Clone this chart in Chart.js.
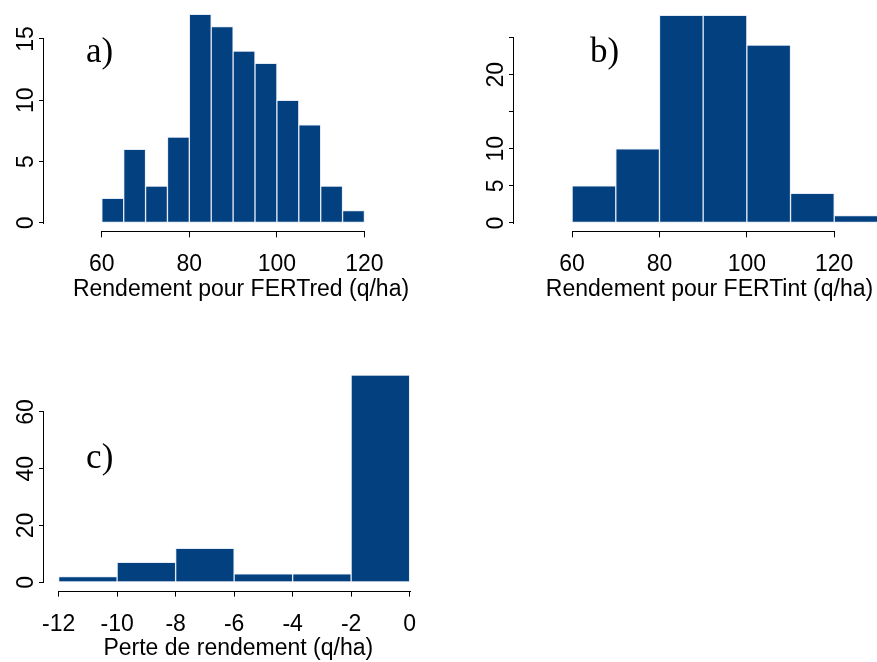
<!DOCTYPE html>
<html>
<head>
<meta charset="utf-8">
<script src="https://cdn.jsdelivr.net/npm/chart.js@4.4.1/dist/chart.umd.min.js"></script>
<style>
  html, body { margin: 0; padding: 0; background: #fff; overflow: hidden; }
  #page { position: relative; width: 877px; height: 662px; overflow: hidden; }
  canvas { position: absolute; }
</style>
</head>
<body>
<div id="page">
  <canvas id="histA" width="438" height="331" style="left:0;top:0"></canvas>
  <canvas id="histB" width="435" height="331" style="left:470px;top:0"></canvas>
  <canvas id="histC" width="433" height="331" style="left:0;top:331px"></canvas>
</div>
<script>
const edgesA = [60, 65, 70, 75, 80, 85, 90, 95, 100, 105, 110, 115, 120];
const countsA = [2, 6, 3, 7, 17, 16, 14, 13, 10, 8, 3, 1];
const xTicksA = [60, 80, 100, 120];
const yTicksA = [0, 5, 10, 15];
const yLabelsA = ['0', '5', '10', '15'];

const edgesB = [60, 70, 80, 90, 100, 110, 120, 130];
const countsB = [5, 10, 28, 28, 24, 4, 1];
const xTicksB = [60, 80, 100, 120];
const yTicksB = [0, 5, 10, 15, 20, 25];
const yLabelsB = ['0', '5', '10', '', '20', ''];

const edgesC = [-12, -10, -8, -6, -4, -2, 0];
const countsC = [2, 7, 12, 3, 3, 73];
const xTicksC = [-12, -10, -8, -6, -4, -2, 0];
const yTicksC = [0, 20, 40, 60];
const yLabelsC = ['0', '20', '40', '60'];

const SANS = "'Liberation Sans', Arial, sans-serif";
const BAR = '#02407f';
const EDGE = '#e4ebf6';

// axes façon R : trait limité aux graduations + étiquette a), b), c)
const rAxes = {
  id: 'rAxes',
  afterDraw(chart, args, opts) {
    const { ctx, chartArea, scales: { x, y } } = chart;
    const xt = x.ticks, yt = y.ticks;
    ctx.save();
    ctx.strokeStyle = '#000';
    ctx.lineWidth = 1;
    ctx.beginPath();
    const by = Math.round(chartArea.bottom) + 0.5;
    ctx.moveTo(Math.round(x.getPixelForValue(xt[0].value)), by);
    ctx.lineTo(Math.round(x.getPixelForValue(xt[xt.length - 1].value)) + 1, by);
    const lx = Math.round(chartArea.left) - 0.5;
    ctx.moveTo(lx, Math.round(y.getPixelForValue(yt[0].value)) + 1);
    ctx.lineTo(lx, Math.round(y.getPixelForValue(yt[yt.length - 1].value)));
    ctx.stroke();
    if (opts.tag) {
      ctx.font = "35px 'Liberation Serif', 'Times New Roman', serif";
      ctx.fillStyle = '#000';
      ctx.textAlign = 'left';
      ctx.textBaseline = 'alphabetic';
      ctx.fillText(opts.tag.text, x.getPixelForValue(opts.tag.x), y.getPixelForValue(opts.tag.y));
    }
    ctx.restore();
  }
};

function makeHist(id, edges, counts, cfg) {
  const points = counts.map((c, i) => ({ x: (edges[i] + edges[i + 1]) / 2, y: c }));
  return new Chart(document.getElementById(id), {
    type: 'bar',
    data: {
      datasets: [{
        data: points,
        backgroundColor: BAR,
        borderColor: EDGE,
        borderWidth: 1,
        borderSkipped: false,
        barPercentage: 1,
        categoryPercentage: 1
      }]
    },
    plugins: [rAxes],
    options: {
      responsive: false,
      animation: false,
      layout: { padding: cfg.padding },
      plugins: {
        legend: { display: false },
        tooltip: { enabled: false },
        rAxes: { tag: cfg.tag }
      },
      scales: {
        x: {
          type: 'linear',
          min: cfg.xMin,
          max: cfg.xMax,
          offset: false,
          afterBuildTicks: s => { s.ticks = cfg.xTicks.map(v => ({ value: v })); },
          afterFit: s => { s.height = 70; s.paddingLeft = 0; s.paddingRight = 0; },
          border: { display: false },
          grid: { offset: false, drawOnChartArea: false, drawTicks: true, tickLength: 6, tickColor: '#000', tickWidth: 1 },
          ticks: {
            autoSkip: false, maxRotation: 0, padding: 14, color: '#000',
            font: { family: SANS, size: 23 },
            callback: v => String(v)
          },
          title: {
            display: true, text: cfg.xTitle, color: '#000',
            font: { family: SANS, size: 23, lineHeight: 1 },
            padding: { top: 0, bottom: 0 }
          }
        },
        y: {
          min: cfg.yMin,
          max: cfg.yMax,
          afterBuildTicks: s => { s.ticks = cfg.yTicks.map(v => ({ value: v })); },
          afterFit: s => { s.width = 44; s.paddingTop = 0; s.paddingBottom = 0; },
          border: { display: false },
          grid: { offset: false, drawOnChartArea: false, drawTicks: true, tickLength: 5, tickColor: '#000', tickWidth: 1 },
          ticks: {
            autoSkip: false, minRotation: 90, maxRotation: 90, crossAlign: 'center',
            padding: 0, color: '#000',
            font: { family: SANS, size: 23 },
            callback: (v, i) => cfg.yLabels[i]
          }
        }
      }
    }
  });
}

makeHist('histA', edgesA, countsA, {
  xMin: 46.8, xMax: 136.8, yMin: -0.68, yMax: 17.68,
  xTicks: xTicksA, yTicks: yTicksA, yLabels: yLabelsA,
  xTitle: 'Rendement pour FERTred (q/ha)',
  padding: { left: 0, right: 0, top: 6, bottom: 29.7 },
  tag: { text: 'a)', x: 56.4, y: 13.15 }
});

makeHist('histB', edgesB, countsB, {
  xMin: 46.7, xMax: 136.2, yMin: -1.12, yMax: 29.12,
  xTicks: xTicksB, yTicks: yTicksB, yLabels: yLabelsB,
  xTitle: 'Rendement pour FERTint (q/ha)',
  padding: { left: 0, right: 0, top: 7, bottom: 29.7 },
  tag: { text: 'b)', x: 64.1, y: 21.7 }
});

makeHist('histC', edgesC, countsC, {
  xMin: -12.5, xMax: 0.785, yMin: -2.92, yMax: 75.92,
  xTicks: xTicksC, yTicks: yTicksC, yLabels: yLabelsC,
  xTitle: 'Perte de rendement (q/ha)',
  padding: { left: 0, right: 0.4, top: 35.7, bottom: 1.4 },
  tag: { text: 'c)', x: -11.06, y: 40.2 }
});
</script>
</body>
</html>
